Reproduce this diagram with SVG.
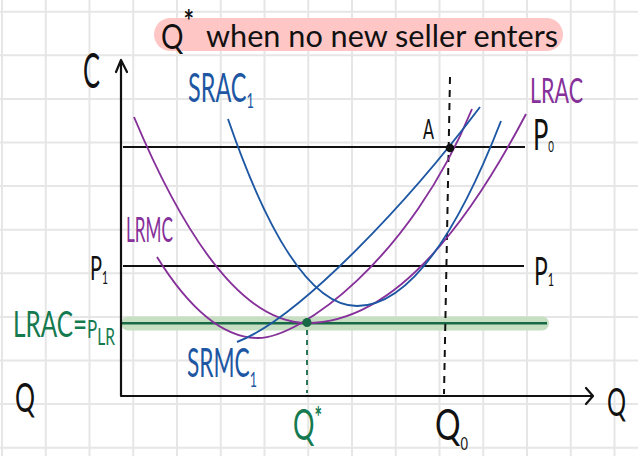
<svg xmlns="http://www.w3.org/2000/svg" width="638" height="456" viewBox="0 0 638 456">
<defs>
<style>
.grid{stroke:#e6e6e6;stroke-width:2;fill:none}
.hw{font-family:Lato,"Liberation Sans",sans-serif;font-weight:400}
.k{fill:#111}
.pu{fill:#86309a}
.bl{fill:#1d57a3}
.gr{fill:#157a4f}
.cp{stroke:#86309a;stroke-width:1.9;fill:none}
.cb{stroke:#1d57a3;stroke-width:1.9;fill:none}
.ax{stroke:#111;stroke-width:2.2;fill:none;stroke-linecap:round;stroke-linejoin:round}
.hl{stroke:#111;stroke-width:2;fill:none}
</style>
</defs>
<rect width="638" height="456" fill="#ffffff"/>
<g id="grid" class="grid">
<path d="M2,0V456M45.75,0V456M89.5,0V456M133.25,0V456M177,0V456M220.75,0V456M264.5,0V456M308.25,0V456M352,0V456M395.75,0V456M439.5,0V456M483.25,0V456M527,0V456M570.75,0V456M614.5,0V456"/>
<path d="M0,11.7H638M0,55.3H638M0,98.9H638M0,142.5H638M0,186.1H638M0,229.7H638M0,273.3H638M0,316.9H638M0,360.5H638M0,404.1H638M0,447.7H638"/>
</g>
<g id="title">
<rect x="154" y="18" width="409" height="33" rx="16.5" fill="#ffc6c6"/>
<text class="hw k" x="161" y="49" font-size="34" textLength="33" lengthAdjust="spacingAndGlyphs">Q<tspan font-size="30" dy="-17" font-weight="700">*</tspan></text>
<text class="hw k" x="206" y="47" font-size="31" textLength="352" lengthAdjust="spacingAndGlyphs">when no new seller enters</text>
</g>
<g id="highlight">
<rect x="121" y="316.5" width="428" height="14" rx="7" fill="#c6dfc2"/>
</g>
<g id="connectors">
<path id="p0-line" class="hl" d="M123,147H525"/>
<path id="p1-line" class="hl" d="M123,266H524"/>
<path id="plr-line" d="M122,323.3H547" stroke="#176a45" stroke-width="2.4" fill="none"/>
<path id="q0-dash" d="M450,77L444,394" stroke="#111" stroke-width="2" stroke-dasharray="7 6" fill="none"/>
<path id="qstar-dash" d="M307,330V393" stroke="#176a45" stroke-width="1.8" stroke-dasharray="5 5" fill="none"/>
<path id="axes" class="ax" d="M121,60V396H593M116,72L121,60L127,72M586,388L593,396L586,404"/>
</g>
<g id="LRAC-curve"><path class="cp" d="M134,117Q220.5,323 307,323Q416.5,323 526,114"/></g>
<g id="LRMC-curve"><path class="cp" d="M157,257Q207.5,338 258,338C300,338 410,260 472,109"/></g>
<g id="SRAC-curve"><path class="cb" d="M228,119Q292.5,306 357,306Q429,306 501,121"/></g>
<g id="SRMC-curve"><path class="cb" d="M237,342C300,318 410,200 480,107"/></g>
<g id="points">
<circle cx="450" cy="148" r="4.3" fill="#111"/>
<circle cx="307" cy="322.5" r="4.5" fill="#176a45"/>
</g>
<g id="labels">
<text class="hw k" x="83" y="88" font-size="48" textLength="17" lengthAdjust="spacingAndGlyphs">C</text>
<text class="hw bl" x="188" y="102" font-size="40" textLength="66" lengthAdjust="spacingAndGlyphs">SRAC<tspan font-size="22" dy="6">1</tspan></text>
<text class="hw pu" x="530" y="103" font-size="34" textLength="53" lengthAdjust="spacingAndGlyphs">LRAC</text>
<text class="hw k" x="423" y="139" font-size="26" textLength="11" lengthAdjust="spacingAndGlyphs">A</text>
<text class="hw k" x="533" y="150" font-size="42" textLength="21" lengthAdjust="spacingAndGlyphs">P<tspan font-size="16" dy="2">0</tspan></text>
<text class="hw pu" x="126" y="242" font-size="34" textLength="47" lengthAdjust="spacingAndGlyphs">LRMC</text>
<text class="hw k" x="90" y="280" font-size="33" textLength="18" lengthAdjust="spacingAndGlyphs">P<tspan font-size="17" dy="4">1</tspan></text>
<text class="hw k" x="534" y="285" font-size="38" textLength="20" lengthAdjust="spacingAndGlyphs">P<tspan font-size="18" dy="1">1</tspan></text>
<text class="hw gr" x="13" y="337" font-size="36" textLength="102" lengthAdjust="spacingAndGlyphs">LRAC=<tspan font-size="25" dy="1">P</tspan><tspan font-size="23" dy="7">LR</tspan></text>
<text class="hw bl" x="187" y="377" font-size="40" textLength="70" lengthAdjust="spacingAndGlyphs">SRMC<tspan font-size="22" dy="10">1</tspan></text>
<text class="hw k" x="15" y="412" font-size="40" textLength="20" lengthAdjust="spacingAndGlyphs">Q</text>
<text class="hw k" x="607" y="416" font-size="38" textLength="19" lengthAdjust="spacingAndGlyphs">Q</text>
<text class="hw gr" x="293" y="440" font-size="42" textLength="29" lengthAdjust="spacingAndGlyphs">Q<tspan font-size="28" dy="-13" font-weight="700">*</tspan></text>
<text class="hw k" x="435" y="440" font-size="42" textLength="33" lengthAdjust="spacingAndGlyphs">Q<tspan font-size="17" dy="10">0</tspan></text>
</g>
</svg>
